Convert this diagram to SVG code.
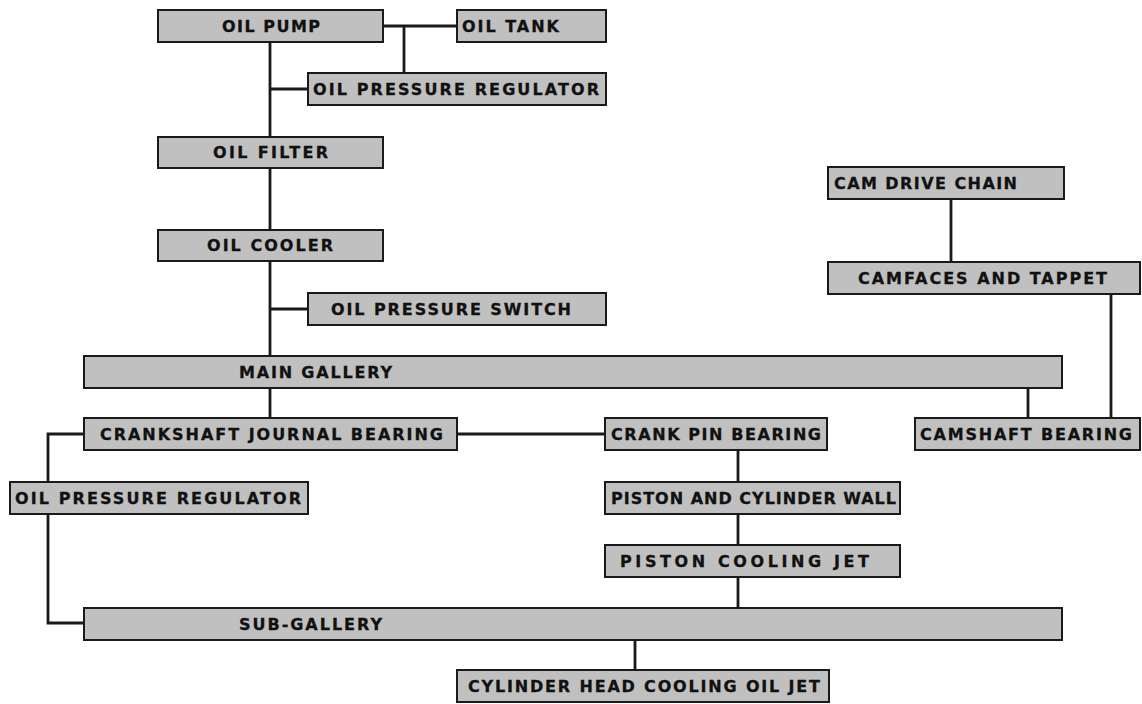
<svg xmlns="http://www.w3.org/2000/svg" width="1142" height="704" viewBox="0 0 1142 704">
<style>
.b{fill:#c0c0c0;stroke:#1a1a1a;stroke-width:2}
.t{font-family:"DejaVu Sans","Liberation Sans",Arial,sans-serif;font-weight:bold;font-size:16px;fill:#111;stroke:#111;stroke-width:0.3}
.c{fill:none;stroke:#1a1a1a;stroke-width:2.8}
</style>
<rect width="1142" height="704" fill="#fff"/>
<g id="connectors">
<path class="c" d="M383,26H457M404,26V73M270,42V137M270,89H308M270,168V230M270,261V356M270,309H308M270,388V418"/>
<path class="c" d="M457,434H605M84,434H48V482M48,514V623H84M738,450V482M738,514V545M738,577V608M635,640V670"/>
<path class="c" d="M951,199V262M1111,294V418M1028,388V418"/>
</g>
<g id="oil-pump"><rect class="b" x="158" y="10" width="225" height="32"/><text class="t" x="222" y="32" textLength="98" lengthAdjust="spacing">OIL PUMP</text></g>
<g id="oil-tank"><rect class="b" x="457" y="10" width="149" height="32"/><text class="t" x="462" y="32" textLength="97" lengthAdjust="spacing">OIL TANK</text></g>
<g id="oil-pressure-regulator-1"><rect class="b" x="308" y="73" width="298" height="32"/><text class="t" x="313" y="95" textLength="286" lengthAdjust="spacing">OIL PRESSURE REGULATOR</text></g>
<g id="oil-filter"><rect class="b" x="158" y="137" width="225" height="31"/><text class="t" x="213" y="158" textLength="115" lengthAdjust="spacing">OIL FILTER</text></g>
<g id="oil-cooler"><rect class="b" x="158" y="230" width="225" height="31"/><text class="t" x="207" y="251" textLength="126" lengthAdjust="spacing">OIL COOLER</text></g>
<g id="oil-pressure-switch"><rect class="b" x="308" y="293" width="298" height="32"/><text class="t" x="331" y="315" textLength="240" lengthAdjust="spacing">OIL PRESSURE SWITCH</text></g>
<g id="main-gallery"><rect class="b" x="84" y="356" width="978" height="32"/><text class="t" x="239" y="378" textLength="153" lengthAdjust="spacing">MAIN GALLERY</text></g>
<g id="crankshaft-journal-bearing"><rect class="b" x="84" y="418" width="373" height="32"/><text class="t" x="100" y="440" textLength="343" lengthAdjust="spacing">CRANKSHAFT JOURNAL BEARING</text></g>
<g id="crank-pin-bearing"><rect class="b" x="605" y="418" width="222" height="32"/><text class="t" x="611" y="440" textLength="210" lengthAdjust="spacing">CRANK PIN BEARING</text></g>
<g id="camshaft-bearing"><rect class="b" x="915" y="418" width="225" height="32"/><text class="t" x="920" y="440" textLength="212" lengthAdjust="spacing">CAMSHAFT BEARING</text></g>
<g id="oil-pressure-regulator-2"><rect class="b" x="10" y="482" width="298" height="32"/><text class="t" x="15" y="504" textLength="286" lengthAdjust="spacing">OIL PRESSURE REGULATOR</text></g>
<g id="piston-and-cylinder-wall"><rect class="b" x="605" y="482" width="295" height="32"/><text class="t" x="611" y="504" textLength="285" lengthAdjust="spacing">PISTON AND CYLINDER WALL</text></g>
<g id="piston-cooling-jet"><rect class="b" x="605" y="545" width="295" height="32"/><text class="t" x="620" y="567" textLength="249" lengthAdjust="spacing">PISTON COOLING JET</text></g>
<g id="sub-gallery"><rect class="b" x="84" y="608" width="978" height="32"/><text class="t" x="239" y="630" textLength="143" lengthAdjust="spacing">SUB-GALLERY</text></g>
<g id="cylinder-head-cooling-oil-jet"><rect class="b" x="457" y="670" width="372" height="32"/><text class="t" x="468" y="692" textLength="352" lengthAdjust="spacing">CYLINDER HEAD COOLING OIL JET</text></g>
<g id="cam-drive-chain"><rect class="b" x="828" y="167" width="236" height="32"/><text class="t" x="834" y="189" textLength="183" lengthAdjust="spacing">CAM DRIVE CHAIN</text></g>
<g id="camfaces-and-tappet"><rect class="b" x="828" y="262" width="312" height="32"/><text class="t" x="858" y="284" textLength="249" lengthAdjust="spacing">CAMFACES AND TAPPET</text></g>
</svg>
